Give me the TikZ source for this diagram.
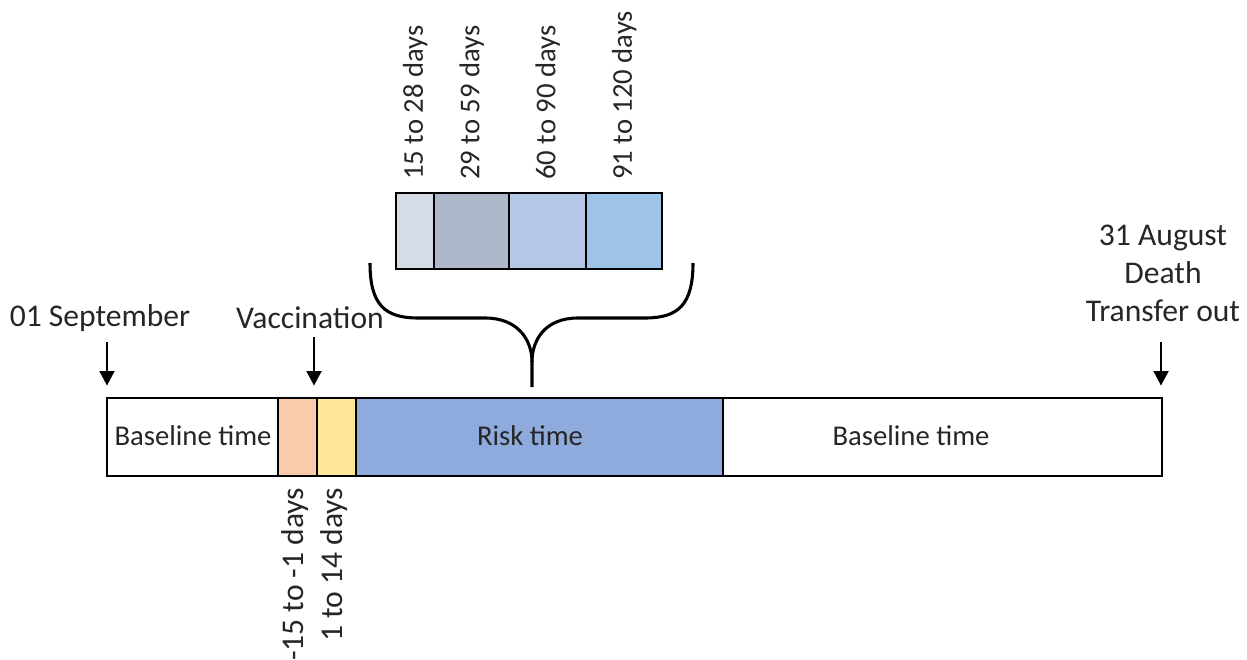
\documentclass[tikz,border=0pt]{standalone}
\usepackage{fontspec}
\setmainfont{Carlito}
\usetikzlibrary{arrows.meta}
\definecolor{txt}{HTML}{262626}
\definecolor{cA}{HTML}{D6DCE5}
\definecolor{cB}{HTML}{ADB9CA}
\definecolor{cC}{HTML}{B4C7E7}
\definecolor{cD}{HTML}{9DC3E6}
\definecolor{cOr}{HTML}{F8CBAD}
\definecolor{cYe}{HTML}{FFE699}
\definecolor{cRi}{HTML}{8FAADC}
\begin{document}
\begin{tikzpicture}[x=0.75pt,y=-0.75pt,
  seg/.style={draw=black, line width=1.8pt, anchor=north west, inner sep=0pt,
              minimum height={78*0.75pt}},
  topbox/.style={draw=black, line width=1.8pt, anchor=north west, inner sep=0pt,
              minimum height={76*0.75pt}},
  lbl/.style={font=\fontsize{21.5}{28.5}\selectfont, text=txt, inner sep=0pt},
  biglbl/.style={font=\fontsize{23.7}{28.5}\selectfont, text=txt, inner sep=0pt},
  arr/.style={line width=2.2pt, -{Triangle[length=11pt,width=11pt]}},
  bracestyle/.style={line width=2.3pt, line join=round}
]
\useasboundingbox (0,0) rectangle (1247,660);

% main bar
\node[seg, minimum width={171*0.75pt}] (base1) at (106,397) {};
\node[seg, fill=cOr, minimum width={39*0.75pt}] (orange) at (277,397) {};
\node[seg, fill=cYe, minimum width={39*0.75pt}] (yellow) at (316,397) {};
\node[seg, fill=cRi, minimum width={367*0.75pt}] (risk) at (355,397) {};
\node[seg, minimum width={439*0.75pt}] (base2) at (722,397) {};
\node[lbl] (base1t) at (193,436) {Baseline time};
\node[lbl] (riskt) at (530,436) {Risk time};
\node[lbl] (base2t) at (911,436) {Baseline time};

% top boxes
\node[topbox, fill=cA, minimum width={38*0.75pt}] (b1) at (395,192) {};
\node[topbox, fill=cB, minimum width={75*0.75pt}] (b2) at (433,192) {};
\node[topbox, fill=cC, minimum width={77*0.75pt}] (b3) at (508,192) {};
\node[topbox, fill=cD, minimum width={76*0.75pt}] (b4) at (585,192) {};

% rotated labels above boxes
\node[lbl, rotate=90, anchor=west] (t1) at ([yshift=9pt]b1.north) {15 to 28 days};
\node[lbl, rotate=90, anchor=west] (t2) at ([yshift=9pt]b2.north) {29 to 59 days};
\node[lbl, rotate=90, anchor=west] (t3) at ([yshift=9pt]b3.north) {60 to 90 days};
\node[lbl, rotate=90, anchor=west] (t4) at ([yshift=9pt]b4.north) {91 to 120 days};

% rotated labels below bar
\node[biglbl, rotate=90, anchor=east] (t5) at ([xshift=-2pt,yshift=-7.5pt]orange.south) {-15 to -1 days};
\node[biglbl, rotate=90, anchor=east] (t6) at ([xshift=-2pt,yshift=-7.5pt]yellow.south) {1 to 14 days};

% event labels
\node[biglbl] (sep) at (100,318) {01 September};
\node[biglbl] (vac) at (310,318) {Vaccination};
\node[biglbl, align=center] (endl) at (1163,273) {31 August\\Death\\Transfer out};

% arrows
\coordinate (a1) at (107,342);
\coordinate (a2) at (314,337);
\coordinate (a3) at (1161,342);
\draw[arr, shorten >=8.5pt] (a1) -- (a1 |- base1.north);
\draw[arr, shorten >=8.5pt] (a2) -- (a2 |- orange.north);
\draw[arr, shorten >=8.5pt] (a3) -- (a3 |- base2.north);

% brace
\coordinate (brL) at (370,263);
\coordinate (brR) at (693,263);
\coordinate (brTip) at (532,387);
\draw[bracestyle] (brL) .. controls (370,305) and (385,318) .. (418,318)
  -- (485,318) .. controls (518,318) and (532,340) .. (532,362) -- (brTip);
\draw[bracestyle] (brR) .. controls (693,305) and (678,318) .. (645,318)
  -- (578,318) .. controls (545,318) and (532,340) .. (532,362);
\end{tikzpicture}
\end{document}
